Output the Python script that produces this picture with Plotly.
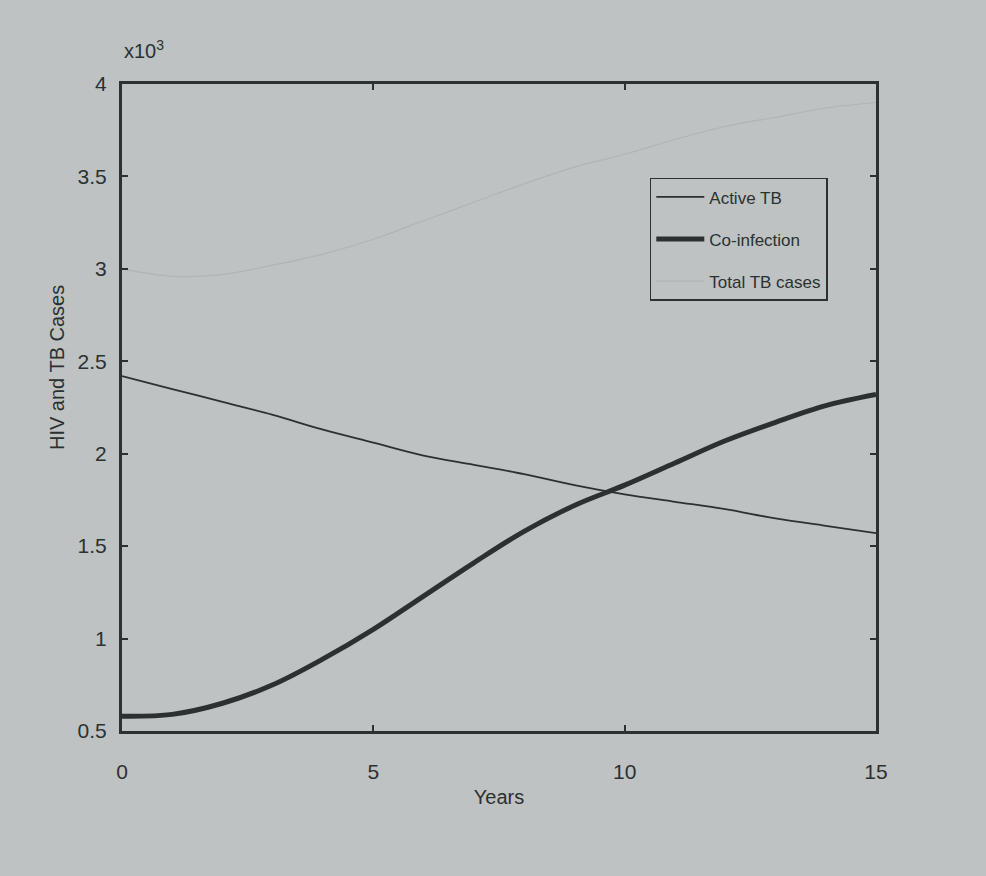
import plotly.graph_objects as go

years = [0, 1, 2, 3, 4, 5, 6, 7, 8, 9, 10, 11, 12, 13, 14, 15]
active_tb = [2.42, 2.35, 2.28, 2.21, 2.13, 2.06, 1.99, 1.94, 1.89, 1.83, 1.78, 1.74, 1.70, 1.65, 1.61, 1.57]
co_infection = [0.58, 0.59, 0.65, 0.75, 0.89, 1.05, 1.23, 1.41, 1.58, 1.72, 1.83, 1.95, 2.07, 2.17, 2.26, 2.32]
total_tb = [3.00, 2.96, 2.97, 3.02, 3.08, 3.16, 3.26, 3.36, 3.46, 3.55, 3.62, 3.70, 3.77, 3.82, 3.87, 3.90]

y_ticks = [0.5, 1, 1.5, 2, 2.5, 3, 3.5, 4]
y_tick_labels = ["0.5", "1", "1.5", "2", "2.5", "3", "3.5", "4"]
x_ticks = [0, 5, 10, 15]

BG = "#bec2c2"
INK = "#2b3131"
FONT = "Liberation Sans Narrow, Liberation Sans, Arial"

fig = go.Figure()
fig.add_trace(go.Scatter(x=years, y=active_tb, mode="lines", name="Active TB",
                         line=dict(color=INK, width=1.8, shape="spline"),
                         legendgroup="a"))
fig.add_trace(go.Scatter(x=years, y=co_infection, mode="lines", name="Co-infection",
                         line=dict(color=INK, width=5, shape="spline"),
                         legendgroup="b"))
fig.add_trace(go.Scatter(x=years, y=total_tb, mode="lines", name="Total TB cases",
                         line=dict(color="#b0b4b4", width=1.2, shape="spline"),
                         legendgroup="c"))

fig.update_layout(
    width=986, height=876,
    margin=dict(l=122, r=110, t=84, b=145),
    paper_bgcolor=BG, plot_bgcolor=BG,
    font=dict(family=FONT, color=INK, size=18),
    showlegend=True,
    legend=dict(x=0.70, y=0.855, xanchor="left", yanchor="top",
                bgcolor=BG, bordercolor=INK, borderwidth=1.5,
                font=dict(size=17, family=FONT, color=INK),
                tracegroupgap=17, itemwidth=48),
    xaxis=dict(range=[0, 15], tickvals=x_ticks, ticks="inside", ticklen=6,
               tickwidth=1.5, tickcolor=INK, showline=True, linecolor=INK,
               linewidth=3, mirror="ticks", showgrid=False, zeroline=False,
               tickfont=dict(size=21), ticklabelstandoff=20,
               title=dict(text="Years", font=dict(size=20), standoff=8)),
    yaxis=dict(range=[0.5, 4], tickvals=y_ticks, ticktext=y_tick_labels,
               ticks="inside", ticklen=6, tickwidth=1.5, tickcolor=INK,
               showline=True, linecolor=INK, linewidth=3, mirror="ticks",
               showgrid=False, zeroline=False, tickfont=dict(size=21),
               ticklabelstandoff=8),
)

fig.add_annotation(x=0, y=1, xref="paper", yref="paper", xanchor="left",
                   yanchor="bottom", yshift=20, showarrow=False,
                   text="x10<sup>3</sup>", font=dict(size=20, family=FONT, color=INK))

fig.add_annotation(x=(44 - 122) / 754, y=0.561, xref="paper", yref="paper",
                   showarrow=False, textangle=-90, text="HIV and TB Cases",
                   font=dict(size=20, family=FONT, color=INK))

fig.write_html("out.html", post_script="document.body.style.margin='0';",
               config={"displayModeBar": False})
